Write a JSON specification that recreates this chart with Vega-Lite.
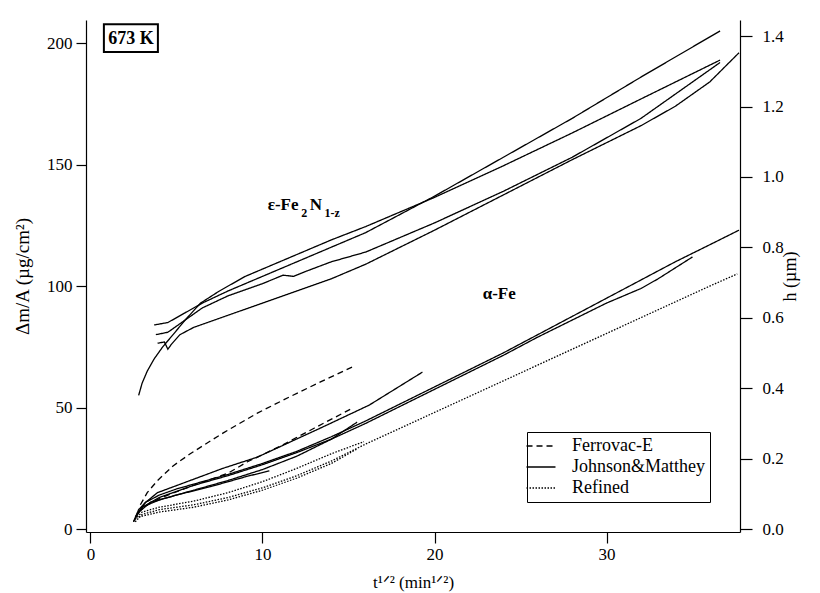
{
  "$schema": "https://vega.github.io/schema/vega-lite/v6.json",
  "width": 654,
  "height": 512,
  "autosize": {"type": "none"},
  "padding": {"left": 86, "top": 20, "right": 80, "bottom": 61},
  "config": {
    "view": {"stroke": null},
    "font": "Liberation Serif, DejaVu Serif, serif",
    "axis": {"labelFont": "Liberation Serif, DejaVu Serif, serif", "titleFont": "Liberation Serif, DejaVu Serif, serif", "labelFontSize": 17, "titleFontSize": 16, "titleFontWeight": "normal", "labelColor": "black", "titleColor": "black", "domainColor": "black", "tickColor": "black", "grid": false, "domainWidth": 1.2, "tickWidth": 1.2},
    "legend": {"labelFont": "Liberation Serif, DejaVu Serif, serif", "labelFontSize": 18, "labelColor": "black"}
  },
  "datasets": {
    "curves": [
      {"id": "F1", "s": "Ferrovac-E", "x": 2.9, "y": 10}, {"id": "F1", "s": "Ferrovac-E", "x": 3.3, "y": 15}, {"id": "F1", "s": "Ferrovac-E", "x": 3.9, "y": 20}, {"id": "F1", "s": "Ferrovac-E", "x": 4.8, "y": 26}, {"id": "F1", "s": "Ferrovac-E", "x": 5.8, "y": 31}, {"id": "F1", "s": "Ferrovac-E", "x": 7.7, "y": 39.5}, {"id": "F1", "s": "Ferrovac-E", "x": 9.7, "y": 47.7}, {"id": "F1", "s": "Ferrovac-E", "x": 11.6, "y": 54.5}, {"id": "F1", "s": "Ferrovac-E", "x": 13.5, "y": 61}, {"id": "F1", "s": "Ferrovac-E", "x": 15.3, "y": 67},
      {"id": "F2", "s": "Ferrovac-E", "x": 2.8, "y": 7}, {"id": "F2", "s": "Ferrovac-E", "x": 3.5, "y": 11}, {"id": "F2", "s": "Ferrovac-E", "x": 4.5, "y": 14}, {"id": "F2", "s": "Ferrovac-E", "x": 6, "y": 18}, {"id": "F2", "s": "Ferrovac-E", "x": 8, "y": 23}, {"id": "F2", "s": "Ferrovac-E", "x": 9.1, "y": 27.6}, {"id": "F2", "s": "Ferrovac-E", "x": 11, "y": 34}, {"id": "F2", "s": "Ferrovac-E", "x": 13, "y": 41.5}, {"id": "F2", "s": "Ferrovac-E", "x": 15.3, "y": 50},
      {"id": "J1", "s": "Johnson&Matthey", "x": 2.5, "y": 3}, {"id": "J1", "s": "Johnson&Matthey", "x": 2.8, "y": 8}, {"id": "J1", "s": "Johnson&Matthey", "x": 3.2, "y": 11}, {"id": "J1", "s": "Johnson&Matthey", "x": 4, "y": 14}, {"id": "J1", "s": "Johnson&Matthey", "x": 5, "y": 16.5}, {"id": "J1", "s": "Johnson&Matthey", "x": 6, "y": 18.5}, {"id": "J1", "s": "Johnson&Matthey", "x": 8, "y": 22.5}, {"id": "J1", "s": "Johnson&Matthey", "x": 10, "y": 27}, {"id": "J1", "s": "Johnson&Matthey", "x": 12, "y": 32}, {"id": "J1", "s": "Johnson&Matthey", "x": 14, "y": 38}, {"id": "J1", "s": "Johnson&Matthey", "x": 16, "y": 44.5}, {"id": "J1", "s": "Johnson&Matthey", "x": 18, "y": 51.5}, {"id": "J1", "s": "Johnson&Matthey", "x": 20, "y": 58.5}, {"id": "J1", "s": "Johnson&Matthey", "x": 22, "y": 65.5}, {"id": "J1", "s": "Johnson&Matthey", "x": 24, "y": 72.5}, {"id": "J1", "s": "Johnson&Matthey", "x": 26, "y": 80}, {"id": "J1", "s": "Johnson&Matthey", "x": 28, "y": 87.5}, {"id": "J1", "s": "Johnson&Matthey", "x": 30, "y": 95}, {"id": "J1", "s": "Johnson&Matthey", "x": 32, "y": 102.5}, {"id": "J1", "s": "Johnson&Matthey", "x": 34, "y": 110}, {"id": "J1", "s": "Johnson&Matthey", "x": 36, "y": 117}, {"id": "J1", "s": "Johnson&Matthey", "x": 37.7, "y": 123},
      {"id": "J2", "s": "Johnson&Matthey", "x": 2.5, "y": 3}, {"id": "J2", "s": "Johnson&Matthey", "x": 3, "y": 9}, {"id": "J2", "s": "Johnson&Matthey", "x": 4, "y": 13}, {"id": "J2", "s": "Johnson&Matthey", "x": 6, "y": 18}, {"id": "J2", "s": "Johnson&Matthey", "x": 8, "y": 22}, {"id": "J2", "s": "Johnson&Matthey", "x": 10, "y": 26.5}, {"id": "J2", "s": "Johnson&Matthey", "x": 12, "y": 31.5}, {"id": "J2", "s": "Johnson&Matthey", "x": 14, "y": 37}, {"id": "J2", "s": "Johnson&Matthey", "x": 16, "y": 43.5}, {"id": "J2", "s": "Johnson&Matthey", "x": 18, "y": 50.5}, {"id": "J2", "s": "Johnson&Matthey", "x": 20, "y": 57.5}, {"id": "J2", "s": "Johnson&Matthey", "x": 22, "y": 64.5}, {"id": "J2", "s": "Johnson&Matthey", "x": 24, "y": 71.5}, {"id": "J2", "s": "Johnson&Matthey", "x": 26, "y": 79}, {"id": "J2", "s": "Johnson&Matthey", "x": 28, "y": 86}, {"id": "J2", "s": "Johnson&Matthey", "x": 30, "y": 93}, {"id": "J2", "s": "Johnson&Matthey", "x": 32, "y": 99}, {"id": "J2", "s": "Johnson&Matthey", "x": 33, "y": 103}, {"id": "J2", "s": "Johnson&Matthey", "x": 35, "y": 112},
      {"id": "J3", "s": "Johnson&Matthey", "x": 2.7, "y": 6}, {"id": "J3", "s": "Johnson&Matthey", "x": 3.2, "y": 11}, {"id": "J3", "s": "Johnson&Matthey", "x": 3.9, "y": 15}, {"id": "J3", "s": "Johnson&Matthey", "x": 5.8, "y": 20}, {"id": "J3", "s": "Johnson&Matthey", "x": 7.7, "y": 25}, {"id": "J3", "s": "Johnson&Matthey", "x": 9.7, "y": 29.6}, {"id": "J3", "s": "Johnson&Matthey", "x": 11.6, "y": 35.8}, {"id": "J3", "s": "Johnson&Matthey", "x": 13.5, "y": 42}, {"id": "J3", "s": "Johnson&Matthey", "x": 16.2, "y": 51}, {"id": "J3", "s": "Johnson&Matthey", "x": 19.3, "y": 64.6},
      {"id": "J4", "s": "Johnson&Matthey", "x": 2.6, "y": 5}, {"id": "J4", "s": "Johnson&Matthey", "x": 3, "y": 9}, {"id": "J4", "s": "Johnson&Matthey", "x": 4, "y": 12}, {"id": "J4", "s": "Johnson&Matthey", "x": 6, "y": 16}, {"id": "J4", "s": "Johnson&Matthey", "x": 8, "y": 20}, {"id": "J4", "s": "Johnson&Matthey", "x": 10, "y": 24.5}, {"id": "J4", "s": "Johnson&Matthey", "x": 12, "y": 30}, {"id": "J4", "s": "Johnson&Matthey", "x": 14, "y": 37}, {"id": "J4", "s": "Johnson&Matthey", "x": 15.5, "y": 44},
      {"id": "J5", "s": "Johnson&Matthey", "x": 2.8, "y": 7}, {"id": "J5", "s": "Johnson&Matthey", "x": 3.5, "y": 11}, {"id": "J5", "s": "Johnson&Matthey", "x": 5, "y": 14}, {"id": "J5", "s": "Johnson&Matthey", "x": 7, "y": 17.5}, {"id": "J5", "s": "Johnson&Matthey", "x": 9, "y": 21.5}, {"id": "J5", "s": "Johnson&Matthey", "x": 10.4, "y": 24},
      {"id": "R1", "s": "Refined", "x": 2.6, "y": 3}, {"id": "R1", "s": "Refined", "x": 3, "y": 6}, {"id": "R1", "s": "Refined", "x": 4, "y": 8}, {"id": "R1", "s": "Refined", "x": 6, "y": 10}, {"id": "R1", "s": "Refined", "x": 8, "y": 13}, {"id": "R1", "s": "Refined", "x": 10, "y": 17}, {"id": "R1", "s": "Refined", "x": 12, "y": 22}, {"id": "R1", "s": "Refined", "x": 14, "y": 28}, {"id": "R1", "s": "Refined", "x": 16, "y": 35}, {"id": "R1", "s": "Refined", "x": 18, "y": 41.5}, {"id": "R1", "s": "Refined", "x": 20, "y": 48}, {"id": "R1", "s": "Refined", "x": 22, "y": 54.5}, {"id": "R1", "s": "Refined", "x": 24, "y": 61}, {"id": "R1", "s": "Refined", "x": 26, "y": 67.5}, {"id": "R1", "s": "Refined", "x": 28, "y": 74}, {"id": "R1", "s": "Refined", "x": 30, "y": 80.5}, {"id": "R1", "s": "Refined", "x": 32, "y": 87}, {"id": "R1", "s": "Refined", "x": 34, "y": 93.5}, {"id": "R1", "s": "Refined", "x": 36, "y": 100}, {"id": "R1", "s": "Refined", "x": 37.6, "y": 105},
      {"id": "R2", "s": "Refined", "x": 2.6, "y": 4}, {"id": "R2", "s": "Refined", "x": 3, "y": 7}, {"id": "R2", "s": "Refined", "x": 4, "y": 9}, {"id": "R2", "s": "Refined", "x": 6, "y": 11.5}, {"id": "R2", "s": "Refined", "x": 8, "y": 15}, {"id": "R2", "s": "Refined", "x": 10, "y": 19.5}, {"id": "R2", "s": "Refined", "x": 12, "y": 25}, {"id": "R2", "s": "Refined", "x": 14, "y": 31}, {"id": "R2", "s": "Refined", "x": 15.9, "y": 36},
      {"id": "R3", "s": "Refined", "x": 2.8, "y": 5}, {"id": "R3", "s": "Refined", "x": 4, "y": 7}, {"id": "R3", "s": "Refined", "x": 6, "y": 9}, {"id": "R3", "s": "Refined", "x": 8, "y": 12}, {"id": "R3", "s": "Refined", "x": 10, "y": 16}, {"id": "R3", "s": "Refined", "x": 12, "y": 21}, {"id": "R3", "s": "Refined", "x": 14, "y": 27}, {"id": "R3", "s": "Refined", "x": 15.5, "y": 33},
      {"id": "E1", "s": "Johnson&Matthey", "x": 2.8, "y": 55}, {"id": "E1", "s": "Johnson&Matthey", "x": 3.0, "y": 60}, {"id": "E1", "s": "Johnson&Matthey", "x": 3.3, "y": 65}, {"id": "E1", "s": "Johnson&Matthey", "x": 3.7, "y": 70}, {"id": "E1", "s": "Johnson&Matthey", "x": 4.2, "y": 75}, {"id": "E1", "s": "Johnson&Matthey", "x": 4.8, "y": 80}, {"id": "E1", "s": "Johnson&Matthey", "x": 5.5, "y": 86}, {"id": "E1", "s": "Johnson&Matthey", "x": 6.4, "y": 93}, {"id": "E1", "s": "Johnson&Matthey", "x": 7.5, "y": 98}, {"id": "E1", "s": "Johnson&Matthey", "x": 9, "y": 104}, {"id": "E1", "s": "Johnson&Matthey", "x": 10.5, "y": 108.5}, {"id": "E1", "s": "Johnson&Matthey", "x": 12, "y": 113}, {"id": "E1", "s": "Johnson&Matthey", "x": 14, "y": 119}, {"id": "E1", "s": "Johnson&Matthey", "x": 16, "y": 124.5}, {"id": "E1", "s": "Johnson&Matthey", "x": 18, "y": 130.5}, {"id": "E1", "s": "Johnson&Matthey", "x": 20, "y": 136.5}, {"id": "E1", "s": "Johnson&Matthey", "x": 24, "y": 149.5}, {"id": "E1", "s": "Johnson&Matthey", "x": 28, "y": 163}, {"id": "E1", "s": "Johnson&Matthey", "x": 32, "y": 177}, {"id": "E1", "s": "Johnson&Matthey", "x": 36.6, "y": 193},
      {"id": "E2", "s": "Johnson&Matthey", "x": 3.7, "y": 84}, {"id": "E2", "s": "Johnson&Matthey", "x": 4.5, "y": 85}, {"id": "E2", "s": "Johnson&Matthey", "x": 5.5, "y": 89}, {"id": "E2", "s": "Johnson&Matthey", "x": 6.5, "y": 93}, {"id": "E2", "s": "Johnson&Matthey", "x": 8, "y": 98}, {"id": "E2", "s": "Johnson&Matthey", "x": 10, "y": 104}, {"id": "E2", "s": "Johnson&Matthey", "x": 12, "y": 110}, {"id": "E2", "s": "Johnson&Matthey", "x": 14, "y": 116}, {"id": "E2", "s": "Johnson&Matthey", "x": 16, "y": 122}, {"id": "E2", "s": "Johnson&Matthey", "x": 20, "y": 137}, {"id": "E2", "s": "Johnson&Matthey", "x": 24, "y": 153}, {"id": "E2", "s": "Johnson&Matthey", "x": 28, "y": 169}, {"id": "E2", "s": "Johnson&Matthey", "x": 32, "y": 186}, {"id": "E2", "s": "Johnson&Matthey", "x": 36.6, "y": 205},
      {"id": "E3", "s": "Johnson&Matthey", "x": 3.8, "y": 80}, {"id": "E3", "s": "Johnson&Matthey", "x": 4.5, "y": 81}, {"id": "E3", "s": "Johnson&Matthey", "x": 5.5, "y": 86}, {"id": "E3", "s": "Johnson&Matthey", "x": 6.5, "y": 91}, {"id": "E3", "s": "Johnson&Matthey", "x": 8, "y": 96}, {"id": "E3", "s": "Johnson&Matthey", "x": 10, "y": 101}, {"id": "E3", "s": "Johnson&Matthey", "x": 11.2, "y": 104.5}, {"id": "E3", "s": "Johnson&Matthey", "x": 11.8, "y": 104}, {"id": "E3", "s": "Johnson&Matthey", "x": 12.5, "y": 106}, {"id": "E3", "s": "Johnson&Matthey", "x": 14, "y": 110}, {"id": "E3", "s": "Johnson&Matthey", "x": 16, "y": 114}, {"id": "E3", "s": "Johnson&Matthey", "x": 18, "y": 120}, {"id": "E3", "s": "Johnson&Matthey", "x": 20, "y": 126}, {"id": "E3", "s": "Johnson&Matthey", "x": 24, "y": 139}, {"id": "E3", "s": "Johnson&Matthey", "x": 28, "y": 153}, {"id": "E3", "s": "Johnson&Matthey", "x": 32, "y": 169}, {"id": "E3", "s": "Johnson&Matthey", "x": 36.6, "y": 192},
      {"id": "E4", "s": "Johnson&Matthey", "x": 3.9, "y": 76.5}, {"id": "E4", "s": "Johnson&Matthey", "x": 4.3, "y": 77}, {"id": "E4", "s": "Johnson&Matthey", "x": 4.5, "y": 74}, {"id": "E4", "s": "Johnson&Matthey", "x": 4.7, "y": 76}, {"id": "E4", "s": "Johnson&Matthey", "x": 5.2, "y": 80}, {"id": "E4", "s": "Johnson&Matthey", "x": 6, "y": 83}, {"id": "E4", "s": "Johnson&Matthey", "x": 8, "y": 88}, {"id": "E4", "s": "Johnson&Matthey", "x": 10, "y": 93}, {"id": "E4", "s": "Johnson&Matthey", "x": 12, "y": 98}, {"id": "E4", "s": "Johnson&Matthey", "x": 14, "y": 103}, {"id": "E4", "s": "Johnson&Matthey", "x": 16, "y": 109}, {"id": "E4", "s": "Johnson&Matthey", "x": 18, "y": 116}, {"id": "E4", "s": "Johnson&Matthey", "x": 20, "y": 123}, {"id": "E4", "s": "Johnson&Matthey", "x": 24, "y": 137.5}, {"id": "E4", "s": "Johnson&Matthey", "x": 28, "y": 152}, {"id": "E4", "s": "Johnson&Matthey", "x": 32, "y": 166}, {"id": "E4", "s": "Johnson&Matthey", "x": 34, "y": 174}, {"id": "E4", "s": "Johnson&Matthey", "x": 36, "y": 184}, {"id": "E4", "s": "Johnson&Matthey", "x": 37.7, "y": 196}
    ],
    "mainLabels": [
      {"x": 10.3, "y": 131.3, "t": "ε-Fe"},
      {"x": 12.75, "y": 131.3, "t": "N"},
      {"x": 22.8, "y": 94.6, "t": "α-Fe"}
    ],
    "subLabels": [
      {"x": 12.25, "y": 128.4, "t": "2"},
      {"x": 13.6, "y": 128.4, "t": "1-z"}
    ],
    "box": [{"x": 0.78, "x2": 3.92, "y": 207.8, "y2": 196.3, "t": "673 K", "xm": 2.35, "ym": 199.5}],
    "hAxis": [{"h": 0}, {"h": 1.44}]
  },
  "layer": [
    {
      "data": {"name": "curves"},
      "mark": {"type": "line", "color": "black", "strokeWidth": 1.3, "clip": true},
      "encoding": {
        "x": {"field": "x", "type": "quantitative", "scale": {"domain": [-0.26, 37.76], "nice": false, "zero": false},
              "axis": {"values": [0, 10, 20, 30], "title": "t¹ᐟ² (min¹ᐟ²)", "labelFont": "Liberation Serif", "titleFont": "Liberation Serif", "titleFontSize": 17, "tickSize": 11, "labelPadding": 3, "titlePadding": 12}},
        "y": {"field": "y", "type": "quantitative", "scale": {"domain": [-1.2, 209.5], "nice": false, "zero": false},
              "axis": {"values": [0, 50, 100, 150, 200], "title": "Δm/A (µg/cm²)", "labelFont": "Liberation Serif", "titleFont": "Liberation Serif", "titleFontSize": 19, "tickSize": 10, "labelPadding": 4, "titlePadding": 14}},
        "detail": {"field": "id"},
        "strokeDash": {"field": "s", "type": "nominal",
                       "scale": {"domain": ["Ferrovac-E", "Johnson&Matthey", "Refined"], "range": [[6, 4], [1, 0], [1.5, 1.5]]},
                       "legend": {"title": null, "orient": "bottom-right", "offset": 30, "strokeColor": "black", "fillColor": "white", "padding": 5, "symbolType": "M-2,0H2", "symbolStrokeColor": "black", "symbolStrokeWidth": 1.4, "symbolSize": 210, "rowPadding": 3, "labelOffset": 22, "labelFont": "Liberation Serif"}}
      }
    },
    {
      "data": {"name": "hAxis"},
      "mark": {"type": "point", "opacity": 0},
      "encoding": {
        "y": {"field": "h", "type": "quantitative", "scale": {"domain": [-0.0085, 1.446], "nice": false, "zero": false},
              "axis": {"orient": "right", "values": [0, 0.2, 0.4, 0.6, 0.8, 1.0, 1.2, 1.4], "format": ".1f", "title": "h (µm)", "labelFont": "Liberation Serif", "titleFont": "Liberation Serif", "titleFontSize": 18, "titleAngle": -90, "titlePadding": 16, "tickSize": 12, "labelPadding": 10}}
      }
    },
    {
      "data": {"name": "box"},
      "mark": {"type": "rect", "fill": "white", "stroke": "black", "strokeWidth": 2},
      "encoding": {
        "x": {"field": "x", "type": "quantitative"},
        "x2": {"field": "x2"},
        "y": {"field": "y", "type": "quantitative", "scale": {"domain": [-1.2, 209.5], "nice": false, "zero": false}, "axis": null},
        "y2": {"field": "y2"}
      }
    },
    {
      "data": {"name": "box"},
      "mark": {"type": "text", "fontWeight": "bold", "fontSize": 18, "baseline": "alphabetic", "align": "center", "font": "Liberation Serif"},
      "encoding": {
        "x": {"field": "xm", "type": "quantitative"},
        "y": {"field": "ym", "type": "quantitative", "scale": {"domain": [-1.2, 209.5], "nice": false, "zero": false}, "axis": null},
        "text": {"field": "t"}
      }
    },
    {
      "data": {"name": "mainLabels"},
      "mark": {"type": "text", "fontWeight": "bold", "fontSize": 17, "baseline": "alphabetic", "align": "left", "font": "Liberation Serif"},
      "encoding": {
        "x": {"field": "x", "type": "quantitative"},
        "y": {"field": "y", "type": "quantitative", "scale": {"domain": [-1.2, 209.5], "nice": false, "zero": false}, "axis": null},
        "text": {"field": "t"}
      }
    },
    {
      "data": {"name": "subLabels"},
      "mark": {"type": "text", "fontWeight": "bold", "fontSize": 12, "baseline": "alphabetic", "align": "left", "font": "Liberation Serif"},
      "encoding": {
        "x": {"field": "x", "type": "quantitative"},
        "y": {"field": "y", "type": "quantitative", "scale": {"domain": [-1.2, 209.5], "nice": false, "zero": false}, "axis": null},
        "text": {"field": "t"}
      }
    }
  ],
  "resolve": {"scale": {"y": "independent"}}
}
